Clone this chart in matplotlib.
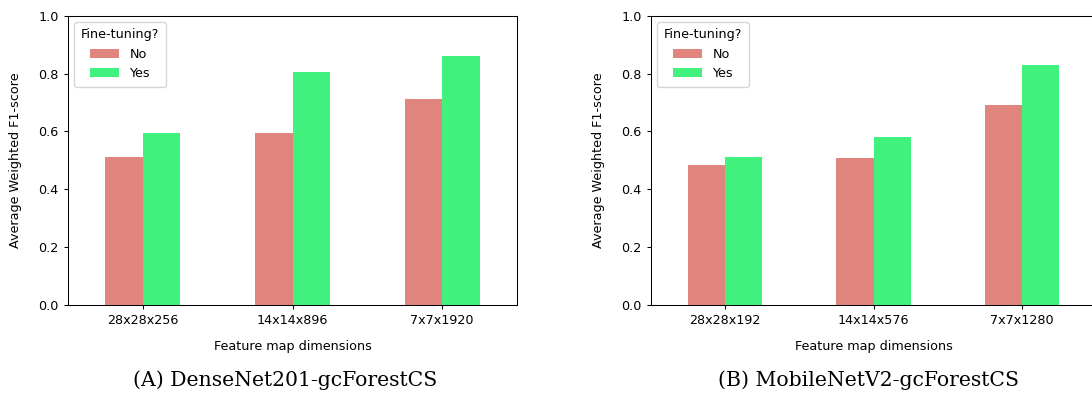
import matplotlib
matplotlib.use('Agg')
import matplotlib.pyplot as plt
import numpy as np

# feature map dimensions per backbone
dims_dense = ['28x28x256', '14x14x896', '7x7x1920']
dims_mobile = ['28x28x192', '14x14x576', '7x7x1280']

# average weighted F1-score, without / with fine-tuning
dense_no = [0.513, 0.595, 0.711]
dense_yes = [0.595, 0.807, 0.862]
mobile_no = [0.484, 0.507, 0.692]
mobile_yes = [0.512, 0.581, 0.830]

series_names = ['No', 'Yes']
captions = ['(A) DenseNet201-gcForestCS', '(B) MobileNetV2-gcForestCS']

COL_NO = '#E0857E'
COL_YES = '#41F17D'
FS = 9.2

plt.rcParams['font.family'] = ['DejaVu Sans']
plt.rcParams['axes.linewidth'] = 0.75
plt.rcParams['xtick.major.width'] = 0.75
plt.rcParams['ytick.major.width'] = 0.75
plt.rcParams['xtick.major.size'] = 3.2
plt.rcParams['ytick.major.size'] = 3.2

W, H = 1092, 396
fig = plt.figure(figsize=(W / 100, H / 100), dpi=100)


def px_axes(x0, x1, y0, y1):
    return fig.add_axes([x0 / W, 1 - y1 / H, (x1 - x0) / W, (y1 - y0) / H])


def grouped(ax, labels, no, yes):
    x = np.arange(len(labels))
    w = 0.25
    ax.bar(x - w / 2, no, w, color=COL_NO, label=series_names[0])
    ax.bar(x + w / 2, yes, w, color=COL_YES, label=series_names[1])
    ax.set_xlim(-0.5, len(labels) - 0.5)
    ax.set_ylim(0, 1.0)
    ax.set_xticks(x)
    ax.set_xticklabels(labels, fontsize=FS)
    ax.tick_params(axis='y', labelsize=FS)
    ax.set_yticks(np.arange(0, 1.01, 0.2))
    ax.set_xlabel('Feature map dimensions', fontsize=FS, labelpad=9)
    ax.set_ylabel('Average Weighted F1-score', fontsize=FS, labelpad=12)
    ax.legend(title='Fine-tuning?', loc='upper left', fontsize=FS, title_fontsize=FS,
              handlelength=2.3, borderpad=0.5)


ax1 = px_axes(68, 517, 15.7, 305)
grouped(ax1, dims_dense, dense_no, dense_yes)

ax2 = px_axes(651, 1096, 15.7, 305)
grouped(ax2, dims_mobile, mobile_no, mobile_yes)
ax2.spines['right'].set_visible(False)

fig.text(285 / W, 1 - 380 / H, captions[0], fontsize=14.7, family='DejaVu Serif',
         ha='center', va='center')
fig.text(869 / W, 1 - 380 / H, captions[1], fontsize=14.7, family='DejaVu Serif',
         ha='center', va='center')

fig.savefig('out.png', dpi=100)
